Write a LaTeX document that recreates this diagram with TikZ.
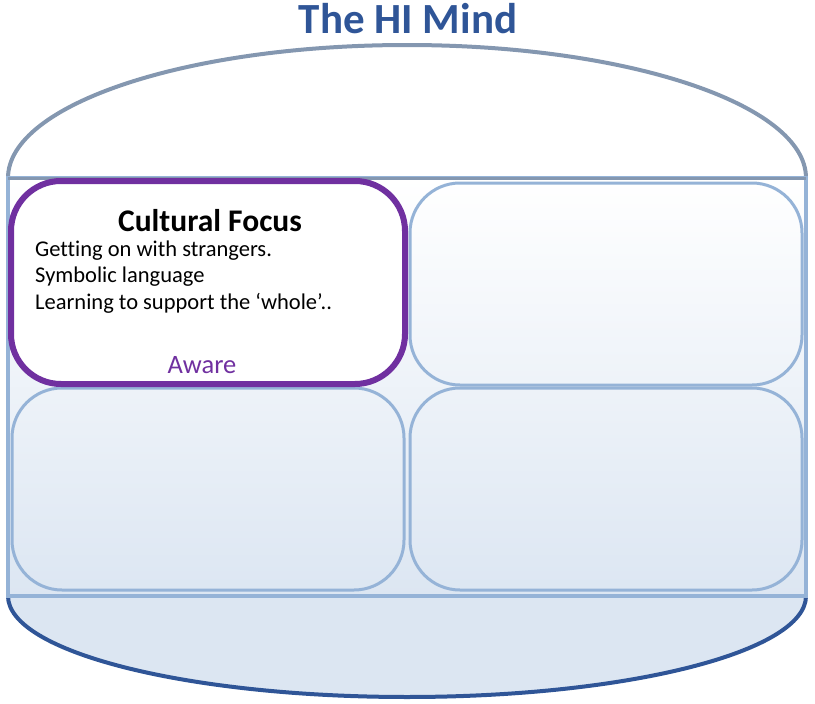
\documentclass[tikz,border=0pt]{standalone}
\usepackage{fontspec}
\setmainfont[Ligatures=NoCommon]{Carlito}
\begin{document}
\begin{tikzpicture}[x=1pt,y=-1pt,
  cell/.style={draw=cellc,line width=3pt,rounded corners=50pt},
  body/.style={font=\fontsize{22.5}{26}\selectfont,anchor=west,inner sep=0pt}]
\definecolor{titlec}{HTML}{2F5597}
\definecolor{domec}{HTML}{8497B0}
\definecolor{cellc}{HTML}{95B3D7}
\definecolor{basec}{HTML}{DCE6F2}
\definecolor{purp}{HTML}{7030A0}
\useasboundingbox (0,0) rectangle (815,704);
\node (title) at (408,19) {\fontsize{43}{48}\selectfont\bfseries\color{titlec}The HI Mind};
\draw[domec,line width=4pt] (8,178) arc[start angle=180,end angle=0,x radius=399pt,y radius=133pt];
\fill[basec] (8,596) arc[start angle=180,end angle=360,x radius=399pt,y radius=101pt] -- cycle;
\draw[titlec,line width=4pt] (8,596) arc[start angle=180,end angle=360,x radius=399pt,y radius=101pt];
\shade[top color=white,bottom color=basec] (8,178) rectangle (806,596);
\draw[cellc,line width=4pt] (8,178) rectangle (806,596);
\draw[domec,line width=3pt] (8,178) -- (806,178);
\draw[cell] (410,183) rectangle (802,385);
\draw[cell] (12,388) rectangle (404,590);
\draw[cell] (410,388) rectangle (802,590);
\draw[draw=purp,fill=white,line width=6pt,rounded corners=50pt] (11,181) rectangle (405,384);
\node (head) at (210,221) {\fontsize{31.5}{36}\selectfont\bfseries Cultural Focus};
\node[body] (l1) at (35,251) {Getting on with strangers.};
\node[body] (l2) at (35,277) {Symbolic language};
\node[body] (l3) at (35,303) {Learning to support the ‘whole’..};
\node (aw) at (202,365) {\fontsize{26.5}{30}\selectfont\color{purp}Aware};
\end{tikzpicture}
\end{document}
